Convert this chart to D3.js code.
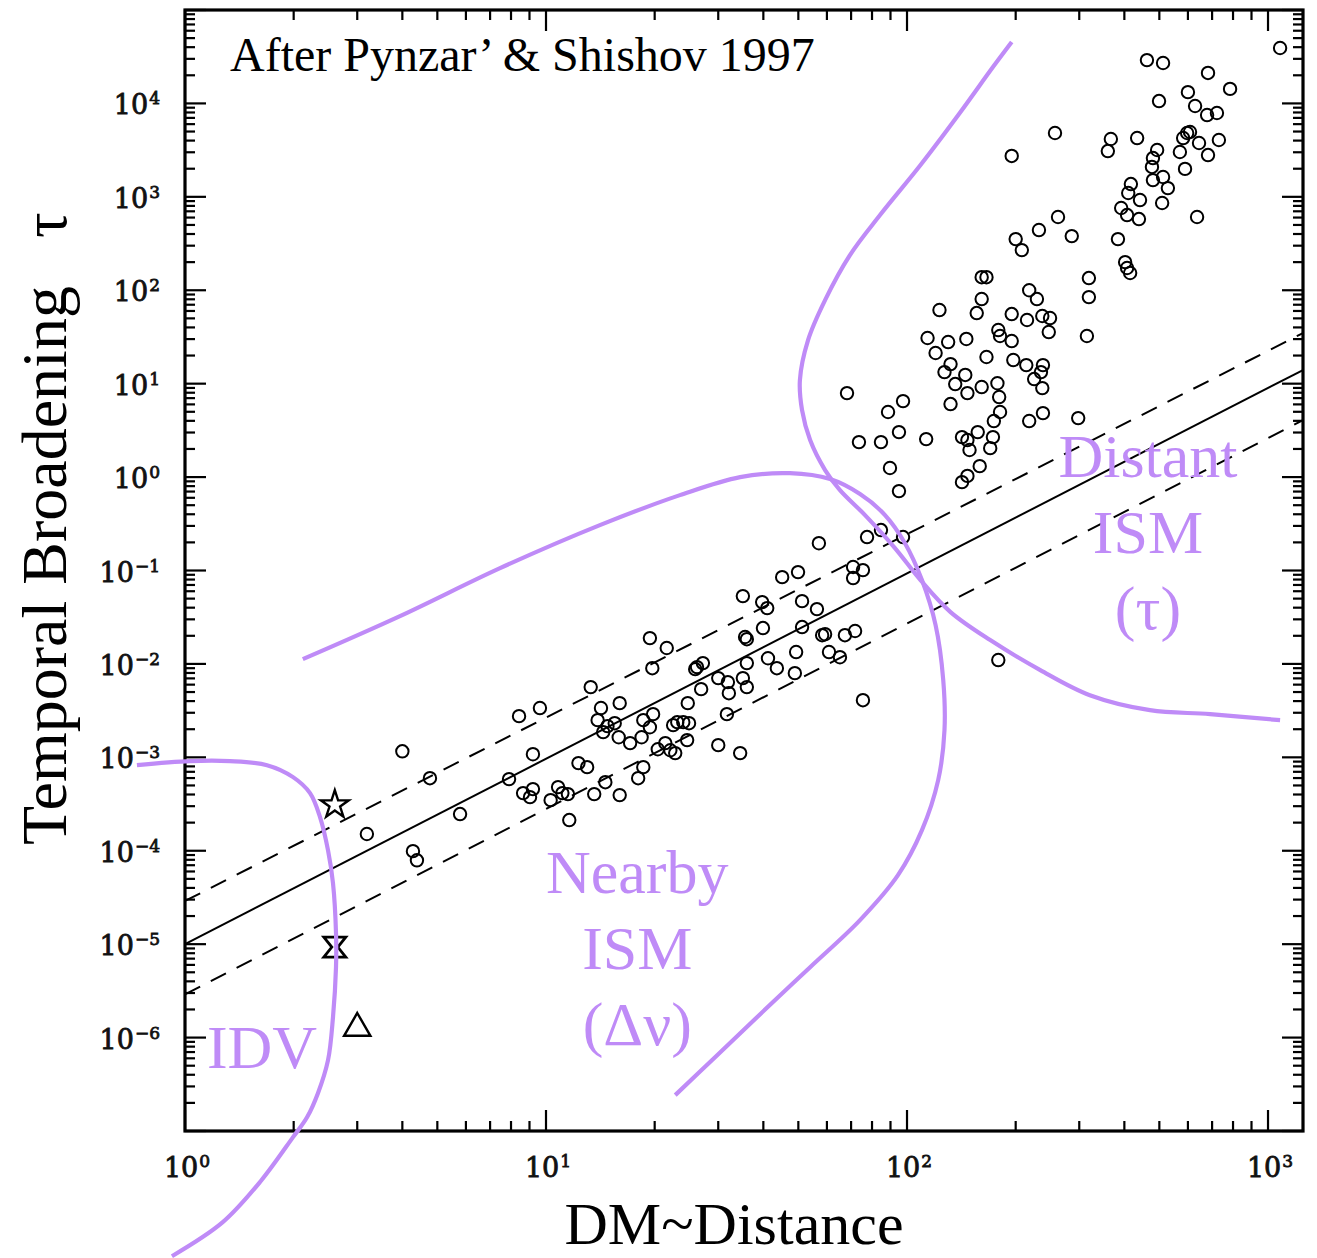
<!DOCTYPE html>
<html><head><meta charset="utf-8">
<script src="https://cdn.jsdelivr.net/npm/d3@7"></script>
<style>body{margin:0;background:#fff}svg{display:block}</style>
</head><body>
<svg id="chart" width="1317" height="1258"></svg>
<script>
// ---------------- data ----------------
const xDomain = [1, 1250];
const yDomain = [1e-7, 1e5];
const xLabelExps = [0, 1, 2, 3];
const yLabelExps = [-6, -5, -4, -3, -2, -1, 0, 1, 2, 3, 4];

// pulsars: [DM, tau]
const pulsars = [
[4.0,1.16e-3],[4.77,5.98e-4],[3.19,1.51e-4],[5.78,2.47e-4],[4.28,9.9e-5],[4.39,7.9e-5],
[13.3,5.65e-3],[9.62,3.37e-3],[8.42,2.76e-3],[9.2,1.08e-3],[7.9,5.85e-4],[14.2,3.37e-3],[16.0,3.8e-3],
[13.9,2.5e-3],[14.8,2.16e-3],[15.5,2.32e-3],[14.4,1.86e-3],[15.9,1.64e-3],[17.1,1.42e-3],[12.3,8.67e-4],
[13.0,7.85e-4],[18.0,5.98e-4],[14.6,5.42e-4],[13.6,4.04e-4],[16.0,3.94e-4],[8.64,4.14e-4],[9.2,4.57e-4],
[9.03,3.75e-4],[10.3,3.48e-4],[10.8,4.8e-4],[11.1,4.14e-4],[11.5,4.04e-4],[11.6,2.13e-4],[18.4,1.64e-3],
[57.0,0.196],[77.5,0.228],[70.9,0.109],[75.5,0.101],[70.9,0.083],[49.9,0.0961],[45.1,0.0849],[35.1,0.0532],
[39.7,0.0459],[41.0,0.0396],[51.2,0.047],[56.3,0.0386],[39.9,0.0242],[51.2,0.0248],[35.6,0.0194],[36.0,0.0184],
[58.2,0.0203],[59.3,0.0208],[67.3,0.0203],[71.8,0.0225],[19.4,0.0189],[21.6,0.0148],[19.7,0.009],[26.2,0.00924],
[27.2,0.0102],[25.9,0.00879],[36.0,0.0102],[41.2,0.0115],[43.6,0.009],[49.3,0.0134],[48.9,0.00796],[60.8,0.0134],
[65.2,0.0118],[75.5,0.00409],[30.0,0.00705],[31.9,0.00638],[35.1,0.00705],[32.1,0.00486],[36.0,0.00565],
[26.9,0.00537],[24.7,0.0038],[19.8,0.0029],[18.6,0.0025],[19.4,0.0021],[23.1,0.00238],[24.0,0.00238],
[24.9,0.00232],[22.5,0.00221],[24.6,0.00153],[31.7,0.0029],[21.4,0.00142],[22.1,0.00119],[22.8,0.00111],
[20.4,0.00122],[30.0,0.00135],[34.5,0.00111],[18.6,7.85e-4],
[127,13.3],[145,12.4],[136,9.9],[147,7.93],[161,9.2],[178,10.1],[180,7.19],[132,6.05],[181,4.97],[174,3.98],
[225,11.2],[237,8.97],[235,13.3],[238,4.84],[218,3.98],[298,4.28],[68.2,7.93],[97.5,6.51],[88.6,4.97],
[95.0,3.03],[73.6,2.37],[84.7,2.37],[113,2.55],[89.7,1.25],[95.0,0.708],[142,2.68],[147,2.49],[157,3.03],
[173,2.68],[170,2.04],[149,1.95],[159,1.31],[147,1.03],[142,0.883],[84.7,0.271],[97.5,0.228],
[262,608],[232,441],[286,380],[200,353],[208,269],[384,353],[402,200],[407,173],[415,153],[161,138],[166,138],
[319,135],[319,84.5],[218,100],[229,80.5],[161,80.5],[156,57],[123,61.4],[195,55.6],[215,48],[237,53],
[249,50.4],[247,35.7],[179,37.5],[181,32.4],[195,28.6],[315,32.4],[114,30.8],[130,27.9],[146,30.1],[120,21.3],
[166,19.3],[197,17.9],[214,15.8],[238,15.8],[132,16.2],
[195,2740],[257,4820],[367,4160],[360,3090],[434,4260],[417,1370],[410,1100],[442,924],[392,759],[407,638],
[439,578],[509,859],[1080,39200],[462,29100],[512,27100],[682,21200],[785,14300],[600,13200],[499,10600],
[628,9380],[678,7510],[722,7890],[597,4820],[608,4940],[582,4260],[644,3770],[731,4060],[570,3020],[682,2800],
[589,1990],[493,3170],[480,2600],[477,2090],[480,1510],[512,1630],[528,1240],[636,608],[179,0.011]
];

// special sources
const starSource = [[2.6, 3.1e-4]];
const hourglassSource = [[2.6, 9.3e-6]];
const triangleSource = [[3.0, 1.26e-6]];

// fit lines [DM, tau]
const fitLine = [[1, 1.0e-5], [1250, 14]];
const upperLine = [[1, 2.9e-5], [1250, 34.8]];
const lowerLine = [[1, 2.9e-6], [1250, 4.07]];

// hand-drawn regions [DM, tau]
const idvCurve = [[0.736,8.24e-4],[1.032,9.1e-4],[1.332,9.1e-4],[1.687,8.24e-4],[1.992,6.14e-4],[2.22,4.14e-4],
[2.366,2.29e-4],[2.49,1.01e-4],[2.57,4.5e-5],[2.62,1.31e-5],[2.62,5.67e-6],[2.57,1.65e-6],[2.49,5.73e-7],
[2.335,2.54e-7],[2.18,1.41e-7],[1.992,8.6e-8],[1.62,2.9e-8],[1.27,1.05e-8],[0.92,4.57e-9]];
const nearbyCurve = [[2.12,0.01125],[3.94,0.0325],[7.46,0.106],[14.1,0.306],[23.5,0.641],[34.5,1.0],[47.4,1.10],
[61.2,0.952],[74.1,0.658],[86.9,0.392],[98.7,0.196],[110,0.0789],[120,0.026],[126,0.00671],[127,0.00195],
[122,5.7e-4],[110,1.66e-4],[94.4,5.48e-5],[74.1,1.81e-5],[53.9,5.67e-6],[39.2,1.78e-6],[29.4,6.17e-7],[22.8,2.42e-7]];
const distantCurve = [[195,45400],[173,24500],[140,7890],[109,2190],[84.2,638],[69.5,238],[59.3,78.5],[53.2,29.3],
[50.5,10.9],[51.2,5.21],[53.9,2.49],[59.3,1.19],[65.2,0.726],[76.5,0.392],[92.6,0.174],[109,0.0789],[132,0.0359],
[170,0.018],[234,0.00859],[321,0.00463],[471,0.0032],[691,0.0029],[1080,0.0025]];

const regionLabels = [
  {lines:["Distant","ISM","(τ)"], dm:465, tau:1.0},
  {lines:["Nearby","ISM","(Δν)"], dm:17.9, tau:3.5e-5},
  {lines:["IDV"], dm:1.15, tau:4.7e-7, anchor:"start"}
];

// ---------------- drawing ----------------
const W = 1317, H = 1258;
const L = 185, R = 1303, T = 10, B = 1131;
const purple = "#bf8bf7";
const svg = d3.select("#chart");
svg.append("rect").attr("width", W).attr("height", H).attr("fill", "#fff");

const x = d3.scaleLog().domain(xDomain).range([L, R]);
const y = d3.scaleLog().domain(yDomain).range([B, T]);

const g = svg.append("g");

function ticksFor(domain) {
  const out = [];
  const e0 = Math.floor(Math.log10(domain[0])), e1 = Math.ceil(Math.log10(domain[1]));
  for (let e = e0; e <= e1; e++) for (let m = 1; m <= 9; m++) {
    const v = m * Math.pow(10, e);
    if (v >= domain[0] * 0.9999 && v <= domain[1] * 1.0001) out.push({v, major: m === 1});
  }
  return out;
}
const tk = g.append("g").attr("stroke", "#000").attr("stroke-width", 2.2);
ticksFor(xDomain).forEach(t => {
  const len = t.major ? 21 : 10, px = x(t.v);
  tk.append("line").attr("x1", px).attr("x2", px).attr("y1", B).attr("y2", B - len);
  tk.append("line").attr("x1", px).attr("x2", px).attr("y1", T).attr("y2", T + len);
});
ticksFor(yDomain).forEach(t => {
  const len = t.major ? 21 : 10, py = y(t.v);
  tk.append("line").attr("y1", py).attr("y2", py).attr("x1", L).attr("x2", L + len);
  tk.append("line").attr("y1", py).attr("y2", py).attr("x1", R).attr("x2", R - len);
});

g.append("rect").attr("x", L).attr("y", T).attr("width", R - L).attr("height", B - T)
  .attr("fill", "none").attr("stroke", "#000").attr("stroke-width", 3.2);

// tick labels
const tickFont = "DejaVu Serif";
function expLabel(sel, e) {
  sel.append("tspan").text("10");
  sel.append("tspan").attr("font-size", 17).attr("dy", -10).attr("dx", 1)
    .text(e < 0 ? "\u2212" + (-e) : String(e));
}
function styleTick(t) {
  t.attr("font-family", tickFont).attr("font-size", 27).attr("fill", "#111")
   .attr("stroke", "#111").attr("stroke-width", 0.8);
}
yLabelExps.forEach(e => {
  const t = g.append("text").attr("x", 160).attr("y", y(Math.pow(10, e)) + 11).attr("text-anchor", "end");
  styleTick(t); expLabel(t, e);
});
xLabelExps.forEach(e => {
  const t = g.append("text").attr("x", x(Math.pow(10, e)) + 2).attr("y", 1177).attr("text-anchor", "middle");
  styleTick(t); expLabel(t, e);
});

// fit lines
const line = d3.line().x(d => x(d[0])).y(d => y(d[1]));
g.append("path").attr("d", line(fitLine)).attr("fill", "none").attr("stroke", "#000").attr("stroke-width", 2);
[upperLine, lowerLine].forEach(l => g.append("path").attr("d", line(l)).attr("fill", "none")
  .attr("stroke", "#000").attr("stroke-width", 2).attr("stroke-dasharray", "17,12"));

// pulsars
g.append("g").selectAll("circle").data(pulsars).join("circle")
  .attr("cx", d => x(d[0])).attr("cy", d => y(d[1])).attr("r", 6.2)
  .attr("fill", "none").attr("stroke", "#000").attr("stroke-width", 2);

// special markers
g.selectAll(".star").data(starSource).join("path").attr("class", "star")
  .attr("transform", d => `translate(${x(d[0])},${y(d[1])})`)
  .attr("d", d3.symbol(d3.symbolStar).size(240)())
  .attr("fill", "none").attr("stroke", "#000").attr("stroke-width", 2.4);
g.selectAll(".hg").data(hourglassSource).join("path").attr("class", "hg")
  .attr("transform", d => `translate(${x(d[0])},${y(d[1])})`)
  .attr("d", "M-11,-10L11,-10L3,0L11,10L-11,10L-3,0Z")
  .attr("fill", "none").attr("stroke", "#000").attr("stroke-width", 2.8);
g.selectAll(".tri").data(triangleSource).join("path").attr("class", "tri")
  .attr("transform", d => `translate(${x(d[0])},${y(d[1])})`)
  .attr("d", d3.symbol(d3.symbolTriangle).size(300)())
  .attr("fill", "none").attr("stroke", "#000").attr("stroke-width", 2.4);

// purple region curves
const curve = d3.line().x(d => x(d[0])).y(d => y(d[1])).curve(d3.curveCatmullRom.alpha(0.5));
[idvCurve, nearbyCurve, distantCurve].forEach(c => svg.append("path").attr("d", curve(c))
  .attr("fill", "none").attr("stroke", purple).attr("stroke-width", 4.2));

// region labels
regionLabels.forEach(lb => {
  const t = svg.append("text").attr("font-family", "Liberation Serif").attr("font-size", 62)
    .attr("fill", purple).attr("text-anchor", lb.anchor || "middle");
  lb.lines.forEach((s, i) => t.append("tspan").attr("x", x(lb.dm)).attr("y", y(lb.tau) + i * 76).text(s));
});

// title
svg.append("text").attr("x", 230).attr("y", 71).attr("font-family", "Liberation Serif")
  .attr("font-size", 48).attr("fill", "#000").text("After Pynzar\u2019 & Shishov 1997");

// axis titles
svg.append("text").attr("x", 734).attr("y", 1244).attr("text-anchor", "middle")
  .attr("font-family", "Liberation Serif").attr("font-size", 60).attr("fill", "#000").text("DM~Distance");
svg.append("text").attr("transform", "translate(66,845) rotate(-90)").attr("text-anchor", "start")
  .attr("font-family", "Liberation Serif").attr("font-size", 64).attr("fill", "#000")
  .style("white-space", "pre").text("Temporal Broadening   \u03c4");
</script>
</body></html>
